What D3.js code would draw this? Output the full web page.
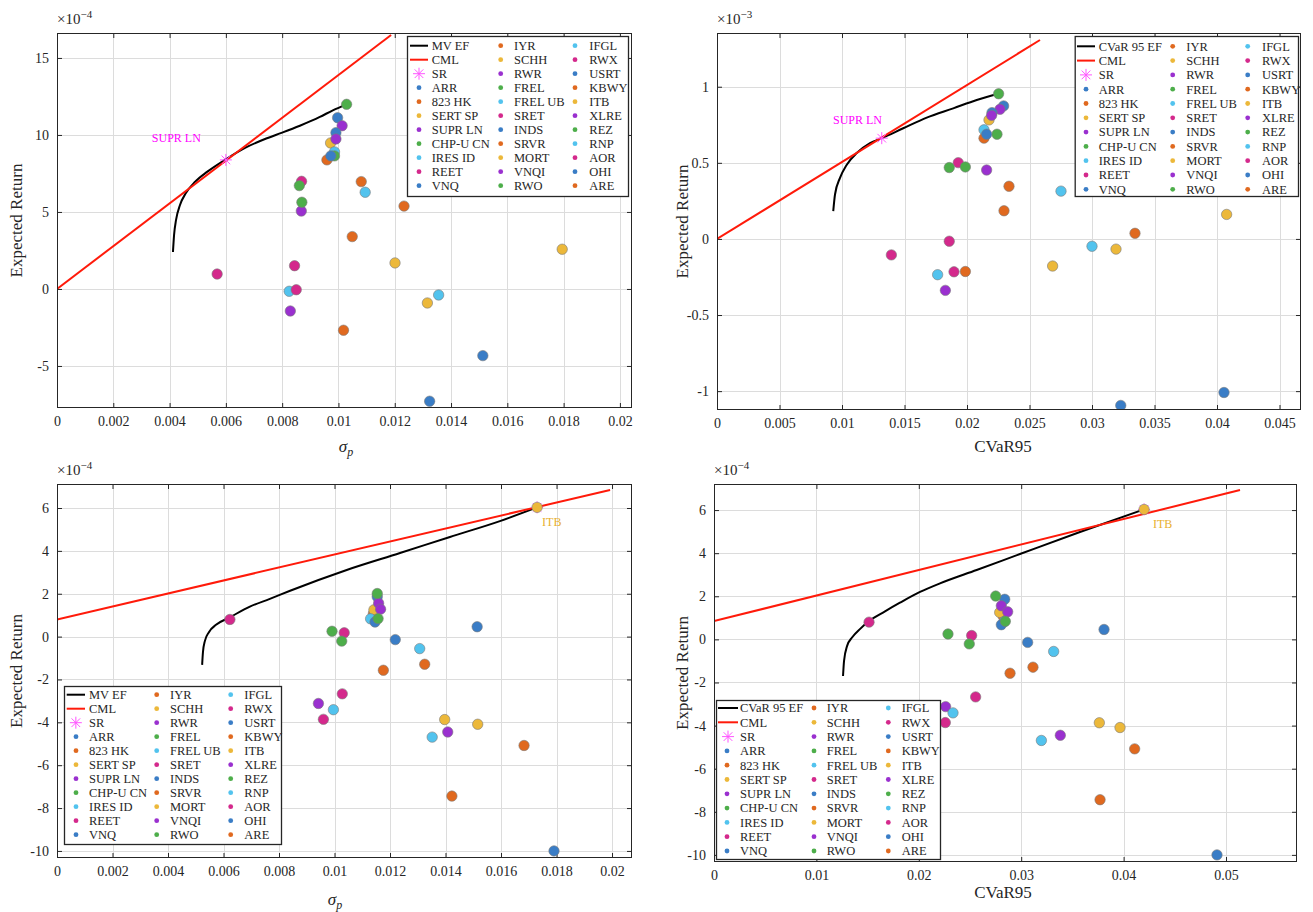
<!DOCTYPE html>
<html><head><meta charset="utf-8">
<script src="https://cdn.jsdelivr.net/npm/d3@7"></script>
<style>
body{margin:0;background:#fff}
svg{display:block}
text{font-family:"Liberation Serif","Times New Roman",serif;fill:#262626}
</style>
</head><body>
<svg id="c" width="1313" height="912"></svg>
<script>
// ---------------- DATA ----------------
const assets = ["ARR","823 HK","SERT SP","SUPR LN","CHP-U CN","IRES ID","REET","VNQ","IYR","SCHH",
  "RWR","FREL","FREL UB","SRET","INDS","SRVR","MORT","VNQI","RWO","IFGL",
  "RWX","USRT","KBWY","ITB","XLRE","REZ","RNP","AOR","OHI","ARE"];
const palette = ["#3a7dc6","#e0691f","#ecb83a","#9a30cf","#4dae4a","#52c3ee","#d4298c"];

// Top row (panel 1: sigma vs return x1e-4; panel 2: CVaR95 vs return x1e-3)
const sigmaTop = [0.00997,0.00959,0.00972,0.01013,0.01029,0.00986,0.00869,0.00991,0.01081,0.01795,
  0.00991,0.00986,0.01095,0.00844,0.00973,0.01233,0.01201,0.00868,0.00861,0.00825,
  0.00569,0.01513,0.01049,0.01316,0.00829,0.0087,0.01356,0.0085,0.01324,0.01018];
const retTopMV = [11.12,8.38,9.48,10.6,11.99,8.9,6.99,10.15,6.97,2.58,
  9.74,8.64,6.28,1.51,8.64,5.38,1.69,5.06,6.71,-0.15,
  0.97,-4.33,3.4,-0.91,-1.43,5.63,-0.39,-0.05,-7.29,-2.68];
const cvarTop = [0.02293,0.02136,0.02176,0.02264,0.02253,0.02136,0.0193,0.022,0.02336,0.04077,
  0.02197,0.0224,0.02752,0.01858,0.02157,0.02296,0.03192,0.02157,0.01987,0.01765,
  0.01395,0.04056,0.03344,0.02685,0.01827,0.01858,0.03,0.01896,0.0323,0.01987];
const retTopCV = [0.874,0.662,0.782,0.852,0.954,0.717,0.501,0.83,0.346,0.161,
  0.812,0.688,0.314,-0.015,0.688,0.185,-0.067,0.453,0.473,-0.235,
  -0.105,-1.009,0.037,-0.178,-0.338,0.469,-0.048,-0.216,-1.094,-0.214];

// Bottom row (shared returns x1e-4)
const sigmaBot = [0.01154,0.0114,0.01142,0.01159,0.01154,0.0113,0.00623,0.01146,0.01325,0.01397,
  0.01166,0.01157,0.01307,0.01035,0.01219,0.01176,0.01516,0.00942,0.00991,0.00996,
  0.01028,0.01514,0.01683,0.0173,0.01408,0.01026,0.01352,0.0096,0.01791,0.01423];
const cvarBot = [0.02839,0.02824,0.0279,0.02806,0.02751,0.02835,0.01514,0.02806,0.03115,0.03763,
  0.02868,0.02845,0.03317,0.02516,0.03063,0.02891,0.03965,0.02262,0.02285,0.02334,
  0.02555,0.03809,0.04108,0.042,0.03382,0.02493,0.03197,0.02259,0.04912,0.0377];
const retBot = [1.86,1.07,1.25,1.56,2.01,0.83,0.80,0.68,-1.29,-3.87,
  1.28,0.84,-0.56,0.18,-0.14,-1.57,-4.09,-3.12,0.25,-3.41,
  -2.67,0.46,-5.08,6.03,-4.45,-0.21,-4.69,-3.86,-10.0,-7.44];

// Efficient frontiers
const ef1X = [0.00412,0.00416,0.00423,0.00437,0.00458,0.0049,0.00533,0.006,0.00668,0.00739,0.008,0.00863,0.00934,0.0098,0.01029];
const ef1Y = [2.40,3.51,4.48,5.45,6.23,6.95,7.6,8.42,9.16,9.74,10.15,10.6,11.17,11.6,11.99];
const ef2X = [0.0093,0.00944,0.00984,0.01038,0.01118,0.01224,0.01318,0.0149,0.01678,0.0189,0.02078,0.02253];
const ef2Y = [0.183,0.292,0.401,0.488,0.564,0.629,0.662,0.727,0.797,0.858,0.913,0.954];
const ef3X = [0.00523,0.00526,0.00533,0.00548,0.00573,0.00623,0.00695,0.00767,0.0084,0.01044,0.01236,0.01416,0.01596,0.0173];
const ef3Y = [-1.32,-0.72,-0.2,0.22,0.55,0.9,1.4,1.76,2.14,3.11,3.9,4.65,5.39,6.03];
const ef4X = [0.0126,0.0127,0.0130,0.0135,0.0143,0.01514,0.0167,0.01816,0.02012,0.02207,0.02565,0.02988,0.03574,0.042];
const ef4Y = [-1.70,-1.0,-0.3,0.1,0.5,0.85,1.3,1.7,2.2,2.6,3.22,3.96,4.98,6.03];

// Capital market lines [x0,x1],[y0,y1]
const cml1X = [0,0.01187], cml1Y = [0,16.49];
const cml2X = [0,0.02584], cml2Y = [0,1.307];
const cml3X = [0,0.01993], cml3Y = [0.80,6.84];
const cml4X = [0,0.05137], cml4Y = [0.85,6.93];

// Max-Sharpe points and their labels
const srPts = [[0.006,8.38],[0.01318,0.662],[0.0173,6.03],[0.042,6.03]];
const srLabels = ["SUPR LN","SUPR LN","ITB","ITB"];
const srLabelPos = [[0.00337,9.8],[0.00928,0.784],[0.01748,5.35],[0.04287,5.35]];

// Ticks
const xt1 = [0,0.002,0.004,0.006,0.008,0.01,0.012,0.014,0.016,0.018,0.02];
const yt1 = [-5,0,5,10,15];
const xt2 = [0,0.005,0.01,0.015,0.02,0.025,0.03,0.035,0.04,0.045];
const yt2 = [-1,-0.5,0,0.5,1];
const xt3 = xt1;
const yt3 = [-10,-8,-6,-4,-2,0,2,4,6];
const xt4 = [0,0.01,0.02,0.03,0.04,0.05];
const yt4 = yt3;

// ---------------- DRAW ----------------
const svg = d3.select("#c");
const fmt = v => String(+v.toFixed(6));

const panels = [
  {box:[57,33,632,408], xd:[0,0.02043], yd:[-7.73,16.62], xt:xt1, yt:yt1, exp:"-4",
   xs:sigmaTop, ys:retTopMV, efx:ef1X, efy:ef1Y, cx:cml1X, cy:cml1Y, ef:"MV EF", xlab:"sigma",
   xlabPos:[346,452], ylabX:22,
   leg:{box:[407,36,628,196], mx:[419,500.7,575], tx:[431.7,514,589.3], y0:45.7, dy:14, lx:[410,428]},
   lblColor:"#ff00ff"},
  {box:[717,33,1301,410], xd:[0,(1301-717)/12500], yd:[-1.124,1.353], xt:xt2, yt:yt2, exp:"-3",
   xs:cvarTop, ys:retTopCV, efx:ef2X, efy:ef2Y, cx:cml2X, cy:cml2Y, ef:"CVaR 95 EF", xlab:"CVaR95",
   xlabPos:[1003,452], ylabX:688,
   leg:{box:[1074.7,36,1298,196], mx:[1086,1172.7,1247.7], tx:[1098.7,1186.3,1262], y0:46.3, dy:14.3, lx:[1077,1095]},
   lblColor:"#ff00ff"},
  {box:[57,484,632,858], xd:[0,0.02072], yd:[-10.33,7.12], xt:xt3, yt:yt3, exp:"-4",
   xs:sigmaBot, ys:retBot, efx:ef3X, efy:ef3Y, cx:cml3X, cy:cml3Y, ef:"MV EF", xlab:"sigma",
   xlabPos:[335,905], ylabX:22,
   leg:{box:[64,686,281,844], mx:[76,156.7,230.7], tx:[89,170,244.3], y0:694.7, dy:14, lx:[66.7,85]},
   lblColor:"#e8b030"},
  {box:[714,484,1297,862], xd:[0,(1297-714)/10240], yd:[-10.33,7.21], xt:xt4, yt:yt4, exp:"-4",
   xs:cvarBot, ys:retBot, efx:ef4X, efy:ef4Y, cx:cml4X, cy:cml4Y, ef:"CVaR 95 EF", xlab:"CVaR95",
   xlabPos:[1003,898], ylabX:688,
   leg:{box:[716,700,940,859], mx:[727,814,888.3], tx:[740,826.7,901.7], y0:708, dy:14.3, lx:[718,738]},
   lblColor:"#e8b030"}
];

function star(g, x, y, r, color, w){
  const p = g.append("g").attr("stroke",color).attr("stroke-width",w||1);
  [[0,r],[r,0],[r*0.72,r*0.72],[r*0.72,-r*0.72]].forEach(([dx,dy])=>{
    p.append("line").attr("x1",x-dx).attr("y1",y-dy).attr("x2",x+dx).attr("y2",y+dy);
  });
}

panels.forEach((P, pi) => {
  const [l,t,r,b] = P.box;
  const x = d3.scaleLinear().domain(P.xd).range([l,r]);
  const y = d3.scaleLinear().domain(P.yd).range([b,t]);
  const g = svg.append("g");
  const clipId = "clip"+pi;
  svg.append("clipPath").attr("id",clipId).append("rect").attr("x",l).attr("y",t).attr("width",r-l).attr("height",b-t);

  // grid
  const grid = g.append("g").attr("stroke","#dcdcdc").attr("stroke-width",1);
  P.xt.forEach(v=>{ const px=Math.round(x(v))+0.5; grid.append("line").attr("x1",px).attr("x2",px).attr("y1",t).attr("y2",b); });
  P.yt.forEach(v=>{ const py=Math.round(y(v))+0.5; grid.append("line").attr("y1",py).attr("y2",py).attr("x1",l).attr("x2",r); });

  // axes using d3 axis (inward ticks)
  const axB = d3.axisBottom(x).tickValues(P.xt).tickSize(-5).tickPadding(8).tickFormat(fmt);
  const axT = d3.axisTop(x).tickValues(P.xt).tickSize(-5).tickFormat("");
  const axL = d3.axisLeft(y).tickValues(P.yt).tickSize(-5).tickPadding(8).tickFormat(fmt);
  const axR = d3.axisRight(y).tickValues(P.yt).tickSize(-5).tickFormat("");
  const styleAx = s => { s.select(".domain").remove(); s.selectAll("line").attr("stroke","#262626");
     s.selectAll("text").attr("font-size",14).attr("font-family","Liberation Serif").attr("fill","#262626"); };
  g.append("g").attr("transform",`translate(0,${b})`).call(axB).call(styleAx);
  g.append("g").attr("transform",`translate(0,${t})`).call(axT).call(styleAx);
  g.append("g").attr("transform",`translate(${l},0)`).call(axL).call(styleAx);
  g.append("g").attr("transform",`translate(${r},0)`).call(axR).call(styleAx);

  const plot = g.append("g").attr("clip-path",`url(#${clipId})`);
  const line = d3.line().curve(d3.curveMonotoneX).x((d)=>x(d[0])).y(d=>y(d[1]));
  // EF
  plot.append("path").attr("d", line(P.efx.map((v,i)=>[v,P.efy[i]]))).attr("fill","none").attr("stroke","#000").attr("stroke-width",2);
  // CML
  plot.append("path").attr("d", line(P.cx.map((v,i)=>[v,P.cy[i]]))).attr("fill","none").attr("stroke","#ff1a0a").attr("stroke-width",2);
  // SR star
  star(plot, x(srPts[pi][0]), y(srPts[pi][1]), 6, "#ff55ff", 1);
  // assets
  assets.forEach((a,i)=>{
    plot.append("circle").attr("cx",x(P.xs[i])).attr("cy",y(P.ys[i])).attr("r",5.2)
      .attr("fill",palette[i%7]).attr("stroke","#7a7a7a").attr("stroke-width",0.6);
  });
  // SR label
  g.append("text").attr("x",x(srLabelPos[pi][0])).attr("y",y(srLabelPos[pi][1])).attr("dy","0.35em")
    .attr("font-size",12).style("fill",P.lblColor).text(srLabels[pi]);

  // box
  g.append("rect").attr("x",l+0.5).attr("y",t+0.5).attr("width",r-l-1).attr("height",b-t-1)
    .attr("fill","none").attr("stroke","#262626").attr("stroke-width",1);

  // exponent
  const ex = g.append("text").attr("x",l).attr("y",t-9).attr("font-size",15);
  ex.append("tspan").text("\u00d710");
  ex.append("tspan").attr("dy",-6).attr("font-size",11).text(P.exp.replace("-","\u2212"));

  // x label
  const xl = g.append("text").attr("x",P.xlabPos[0]).attr("y",P.xlabPos[1]).attr("text-anchor","middle").attr("font-size",17);
  if (P.xlab==="sigma"){ xl.append("tspan").attr("font-style","italic").text("\u03c3"); xl.append("tspan").attr("font-style","italic").attr("font-size",12).attr("dy",4).text("p"); }
  else xl.text(P.xlab);
  // y label
  g.append("text").attr("transform",`translate(${P.ylabX},${(t+b)/2}) rotate(-90)`).attr("text-anchor","middle")
    .attr("font-size",17).text("Expected Return");

  // legend
  const L = P.leg;
  const lg = g.append("g");
  lg.append("rect").attr("x",L.box[0]+0.5).attr("y",L.box[1]+0.5).attr("width",L.box[2]-L.box[0]).attr("height",L.box[3]-L.box[1])
    .attr("fill","#fff").attr("stroke","#262626").attr("stroke-width",1.3);
  const items = [{n:P.ef,k:"ef"},{n:"CML",k:"cml"},{n:"SR",k:"sr"}].concat(assets.map((a,i)=>({n:a,k:"pt",c:palette[i%7]})));
  items.forEach((it,j)=>{
    const col = Math.floor(j/11), row = j%11;
    const yy = L.y0 + row*L.dy;
    if (it.k==="ef"||it.k==="cml"){
      lg.append("line").attr("x1",L.lx[0]).attr("x2",L.lx[1]).attr("y1",yy).attr("y2",yy)
        .attr("stroke",it.k==="ef"?"#000":"#ff1a0a").attr("stroke-width",2);
    } else if (it.k==="sr"){
      star(lg, (L.lx[0]+L.lx[1])/2, yy, 6, "#ff55ff", 1);
    } else {
      lg.append("circle").attr("cx",L.mx[col]).attr("cy",yy).attr("r",2.4).attr("fill",it.c);
    }
    lg.append("text").attr("x",L.tx[col]).attr("y",yy).attr("dy","0.35em").attr("font-size",12.5).text(it.n);
  });
});
</script>
</body></html>
